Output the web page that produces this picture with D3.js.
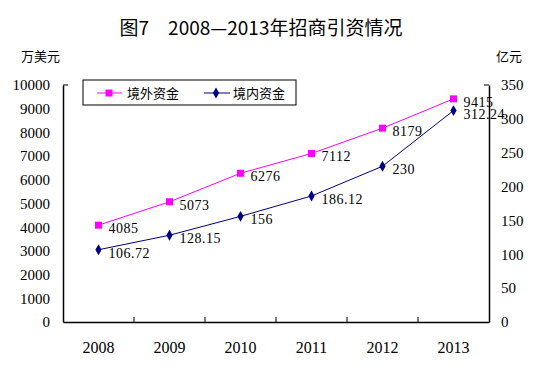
<!DOCTYPE html>
<html>
<head>
<meta charset="utf-8">
<title>图7 2008—2013年招商引资情况</title>
<script src="https://d3js.org/d3.v7.min.js"></script>
<style>
body { margin:0; background:#fff; }
text { fill:#000; }
</style>
</head>
<body>
<svg id="chart" width="550" height="368"></svg>
<script>
// data
var years = ["2008","2009","2010","2011","2012","2013"];
var foreignVals = [4085, 5073, 6276, 7112, 8179, 9415];          // 境外资金, 万美元 (left)
var domesticVals = [106.72, 128.15, 156, 186.12, 230, 312.24];   // 境内资金, 亿元 (right)
var foreignLabels = ["4085","5073","6276","7112","8179","9415"];
var domesticLabels = ["106.72","128.15","156","186.12","230","312.24"];
var leftTicks = [0,1000,2000,3000,4000,5000,6000,7000,8000,9000,10000];
var rightTicks = [0,50,100,150,200,250,300,350];

var svg = d3.select("#chart");
var L = 63, R = 489, T = 85, B = 322;
var numFont = "'Liberation Serif', 'DejaVu Serif', serif";
var cjkFont = "'Noto Sans CJK SC', sans-serif";

var x = d3.scaleBand().domain(years).range([L, R]).padding(0);
var yL = d3.scaleLinear().domain([0, 10000]).range([B, T]);
var yR = d3.scaleLinear().domain([0, 350]).range([B, T]);

// title
svg.append("text").attr("x", 261).attr("y", 35).attr("text-anchor", "middle")
  .style("font-family", cjkFont).style("font-size", "19px")
  .text("图7　2008—2013年招商引资情况");
svg.append("text").attr("x", 21).attr("y", 61).style("font-family", cjkFont).style("font-size", "13px").text("万美元");
svg.append("text").attr("x", 496).attr("y", 61).style("font-family", cjkFont).style("font-size", "13px").text("亿元");

// axes
var ax = svg.append("g").attr("transform", "translate(0," + B + ")")
  .call(d3.axisBottom(x).tickSize(0).tickPadding(20));
ax.select(".domain").attr("stroke", "#000").attr("stroke-width", 1.5);
ax.selectAll("text").style("font-family", numFont).style("font-size", "16px");

// ticks between categories, pointing up
svg.selectAll(".xt").data(years.slice(1)).enter().append("line")
  .attr("x1", function(d){ return x(d); }).attr("x2", function(d){ return x(d); })
  .attr("y1", B).attr("y2", B - 5).attr("stroke", "#000");

var al = svg.append("g").attr("transform", "translate(" + L + ",0)")
  .call(d3.axisLeft(yL).tickValues(leftTicks).tickFormat(d3.format("d")).tickSize(0).tickPadding(13).tickSizeOuter(0));
al.select(".domain").attr("stroke", "#000").attr("stroke-width", 1.5);
al.selectAll("text").style("font-family", numFont).style("font-size", "15px");

var ar = svg.append("g").attr("transform", "translate(" + R + ",0)")
  .call(d3.axisRight(yR).tickValues(rightTicks).tickFormat(d3.format("d")).tickSize(0).tickPadding(12).tickSizeOuter(0));
ar.select(".domain").attr("stroke", "#000").attr("stroke-width", 1.5);
ar.selectAll("text").style("font-family", numFont).style("font-size", "15px");

// small inward marks at the top of the value axes
svg.append("line").attr("x1", L).attr("x2", L + 5).attr("y1", yL(10000)).attr("y2", yL(10000)).attr("stroke", "#000");
svg.append("line").attr("x1", R - 5).attr("x2", R).attr("y1", yR(350)).attr("y2", yR(350)).attr("stroke", "#000");

var cx = function(i){ return x(years[i]) + x.bandwidth() / 2; };
var magenta = "#ff00ff", navy = "#000080";

// 境外资金
svg.append("path").datum(foreignVals)
  .attr("d", d3.line().x(function(d, i){ return cx(i); }).y(function(d){ return yL(d); }))
  .attr("fill", "none").attr("stroke", magenta).attr("stroke-width", 1);
svg.selectAll(".sq").data(foreignVals).enter().append("rect")
  .attr("x", function(d, i){ return cx(i) - 3.5; }).attr("y", function(d){ return yL(d) - 3.5; })
  .attr("width", 7).attr("height", 7).attr("fill", magenta);
svg.selectAll(".fl").data(foreignVals).enter().append("text")
  .attr("x", function(d, i){ return cx(i) + 10; }).attr("y", function(d){ return yL(d) + 8; })
  .style("font-family", numFont).style("font-size", "14px").style("letter-spacing", "0.5px")
  .text(function(d, i){ return foreignLabels[i]; });

// 境内资金
svg.append("path").datum(domesticVals)
  .attr("d", d3.line().x(function(d, i){ return cx(i); }).y(function(d){ return yR(d); }))
  .attr("fill", "none").attr("stroke", navy).attr("stroke-width", 1);
var diamond = d3.symbol().type(d3.symbolDiamond).size(34);
svg.selectAll(".dm").data(domesticVals).enter().append("path")
  .attr("d", diamond)
  .attr("transform", function(d, i){ return "translate(" + cx(i) + "," + yR(d) + ")"; })
  .attr("fill", navy);
svg.selectAll(".dl").data(domesticVals).enter().append("text")
  .attr("x", function(d, i){ return cx(i) + 10; }).attr("y", function(d){ return yR(d) + 8; })
  .style("font-family", numFont).style("font-size", "14px").style("letter-spacing", "0.5px")
  .text(function(d, i){ return domesticLabels[i]; });

// legend
var lg = svg.append("g");
lg.append("rect").attr("x", 83).attr("y", 80).attr("width", 213).attr("height", 25)
  .attr("fill", "#fff").attr("stroke", "#000").attr("stroke-width", 1);
lg.append("line").attr("x1", 97).attr("x2", 122).attr("y1", 93).attr("y2", 93).attr("stroke", magenta);
lg.append("rect").attr("x", 105.5).attr("y", 89.5).attr("width", 7).attr("height", 7).attr("fill", magenta);
lg.append("text").attr("x", 127).attr("y", 98).style("font-family", cjkFont).style("font-size", "13px").text("境外资金");
lg.append("line").attr("x1", 204).attr("x2", 230).attr("y1", 93).attr("y2", 93).attr("stroke", navy);
lg.append("path").attr("d", diamond).attr("transform", "translate(216,93)").attr("fill", navy);
lg.append("text").attr("x", 233).attr("y", 98).style("font-family", cjkFont).style("font-size", "13px").text("境内资金");
</script>
</body>
</html>
